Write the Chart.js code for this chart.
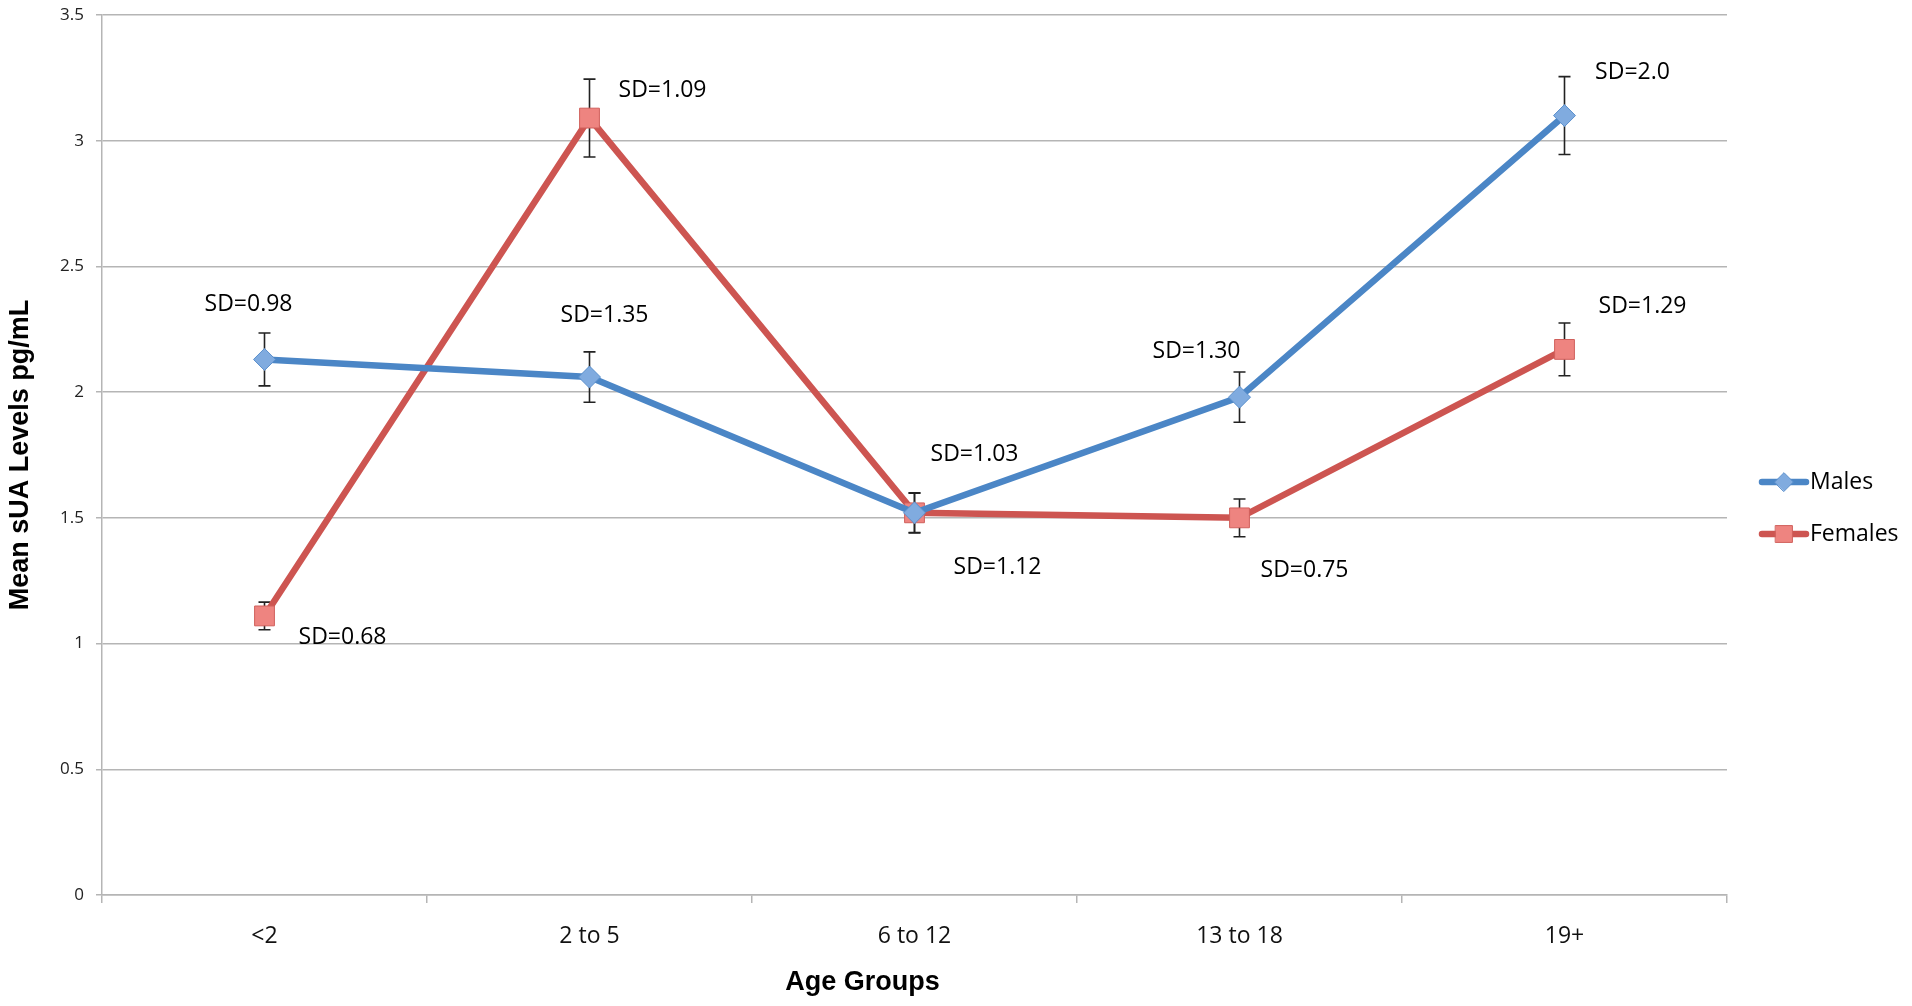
<!DOCTYPE html>
<html>
<head>
<meta charset="utf-8">
<title>Mean sUA Levels by Age Group</title>
<script src="https://cdn.jsdelivr.net/npm/chart.js@4/dist/chart.umd.min.js"></script>
<style>
  html, body { margin: 0; padding: 0; background: #fff; }
  #wrap { width: 1912px; height: 1006px; position: relative; }
</style>
</head>
<body>
<div id="wrap"><canvas id="chart-sua"></canvas></div>
<script>
// values
const ageGroups = ["<2", "2 to 5", "6 to 12", "13 to 18", "19+"];
const malesMean = [2.13, 2.06, 1.52, 1.98, 3.10];
const malesErr = [0.105, 0.10, 0.08, 0.10, 0.155];
const malesSD = ["SD=0.98", "SD=1.35", "SD=1.03", "SD=1.30", "SD=2.0"];
const femalesMean = [1.11, 3.09, 1.52, 1.50, 2.17];
const femalesErr = [0.055, 0.155, 0.078, 0.075, 0.105];
const femalesSD = ["SD=0.68", "SD=1.09", "SD=1.12", "SD=0.75", "SD=1.29"];
const yTickValues = [0, 0.5, 1, 1.5, 2, 2.5, 3, 3.5];

const BLUE = "#4b86c6";
const RED = "#cd5551";
const GRID = "#b5b5b5";
const FONT = "'Open Sans', 'Noto Sans', sans-serif";
const BOLD_FONT = "'Liberation Sans', Arial, sans-serif";

// label offsets (px) from each point, per series
const labelOffsets = {
  Males: [[-16, -55], [15, -62], [60, -58], [-43, -46], [68, -43]],
  Females: [[78, 22], [73, -28], [83, 55], [65, 53], [78, -43]],
};

const errorBars = {
  id: "errorBars",
  beforeDatasetsDraw(chart) {
    const { ctx, scales: { y } } = chart;
    ctx.save();
    ctx.strokeStyle = "#222";
    ctx.lineWidth = 1.6;
    chart.data.datasets.forEach((ds, i) => {
      const meta = chart.getDatasetMeta(i);
      meta.data.forEach((pt, j) => {
        const top = y.getPixelForValue(ds.data[j] + ds.errors[j]);
        const bot = y.getPixelForValue(ds.data[j] - ds.errors[j]);
        ctx.beginPath();
        ctx.moveTo(pt.x, top); ctx.lineTo(pt.x, bot);
        ctx.moveTo(pt.x - 6, top); ctx.lineTo(pt.x + 6, top);
        ctx.moveTo(pt.x - 6, bot); ctx.lineTo(pt.x + 6, bot);
        ctx.stroke();
      });
    });
    ctx.restore();
  },
};

const sdLabels = {
  id: "sdLabels",
  afterDatasetsDraw(chart) {
    const { ctx } = chart;
    ctx.save();
    ctx.font = `23px ${FONT}`;
    ctx.fillStyle = "#000";
    ctx.textAlign = "center";
    ctx.textBaseline = "middle";
    chart.data.datasets.forEach((ds, i) => {
      const offs = labelOffsets[ds.label];
      chart.getDatasetMeta(i).data.forEach((pt, j) => {
        ctx.fillText(ds.sdLabels[j], pt.x + offs[j][0], pt.y + offs[j][1]);
      });
    });
    ctx.restore();
  },
};

const titlesAndLegend = {
  id: "titlesAndLegend",
  afterDraw(chart) {
    const { ctx, chartArea: area } = chart;
    ctx.save();
    ctx.fillStyle = "#000";
    ctx.font = `bold 27px ${BOLD_FONT}`;
    ctx.textAlign = "center";
    ctx.textBaseline = "middle";
    ctx.fillText("Age Groups", (area.left + area.right) / 2 - 52, 983);
    ctx.translate(21, (area.top + area.bottom) / 2);
    ctx.rotate(-Math.PI / 2);
    ctx.fillText("Mean sUA Levels pg/mL", 0, 0);
    ctx.restore();

    // legend: line + marker + name
    ctx.save();
    const midY = chart.height / 2;
    chart.data.datasets.forEach((ds, i) => {
      const ly = midY - 21 + i * 52;
      const x0 = area.right + 35;
      ctx.strokeStyle = ds.borderColor;
      ctx.lineWidth = 6.5;
      ctx.lineCap = "round";
      ctx.beginPath();
      ctx.moveTo(x0, ly); ctx.lineTo(x0 + 44, ly);
      ctx.stroke();
      ctx.fillStyle = ds.pointBackgroundColor;
      ctx.strokeStyle = ds.pointBorderColor;
      ctx.lineWidth = 1;
      Chart.helpers.drawPoint(ctx, {
        pointStyle: ds.pointStyle,
        radius: ds.pointRadius * 0.85,
        borderWidth: 1,
      }, x0 + 22, ly);
      ctx.fillStyle = "#000";
      ctx.font = `23px ${FONT}`;
      ctx.textAlign = "left";
      ctx.textBaseline = "middle";
      ctx.fillText(ds.label, x0 + 48, ly);
    });
    ctx.restore();
  },
};

function renderChart() {
  const canvas = document.getElementById("chart-sua");
  new Chart(canvas, {
    type: "line",
    data: {
      labels: ageGroups,
      datasets: [
        {
          label: "Males",
          data: malesMean,
          errors: malesErr,
          sdLabels: malesSD,
          borderColor: BLUE,
          borderWidth: 6.5,
          pointStyle: "rectRot",
          pointRadius: 11,
          pointBackgroundColor: "#80abdf",
          pointBorderColor: "#5a8fcc",
          pointBorderWidth: 1,
          tension: 0,
        },
        {
          label: "Females",
          data: femalesMean,
          errors: femalesErr,
          sdLabels: femalesSD,
          borderColor: RED,
          borderWidth: 6.5,
          pointStyle: "rect",
          pointRadius: 14,
          pointBackgroundColor: "#ee8480",
          pointBorderColor: "#d0605c",
          pointBorderWidth: 1,
          tension: 0,
        },
      ],
    },
    options: {
      responsive: true,
      maintainAspectRatio: false,
      animation: false,
      layout: { padding: { left: 0, right: 185, top: 13, bottom: 0 } },
      plugins: {
        legend: { display: false },
        tooltip: { enabled: false },
      },
      scales: {
        x: {
          offset: true,
          grid: {
            offset: true,
            drawOnChartArea: false,
            color: GRID,
            lineWidth: 1.5,
            tickLength: 8,
          },
          border: { color: GRID, width: 1.5 },
          ticks: { color: "#111", font: { family: FONT, size: 23 }, padding: 20 },
          afterFit: (s) => { s.height = 111; s.paddingLeft = 0; s.paddingRight = 0; },
        },
        y: {
          min: 0,
          max: 3.5,
          afterBuildTicks: (s) => { s.ticks = yTickValues.map((v) => ({ value: v })); },
          grid: { color: GRID, lineWidth: 1.5, tickLength: 6 },
          border: { color: GRID, width: 1.5 },
          ticks: {
            color: "#222",
            font: { family: FONT, size: 17 },
            padding: 12,
            callback: (v) => String(v),
          },
          afterFit: (s) => { s.width = 102; s.paddingTop = 0; s.paddingBottom = 0; },
        },
      },
    },
    plugins: [errorBars, sdLabels, titlesAndLegend],
  });
}

renderChart();
</script>
</body>
</html>
